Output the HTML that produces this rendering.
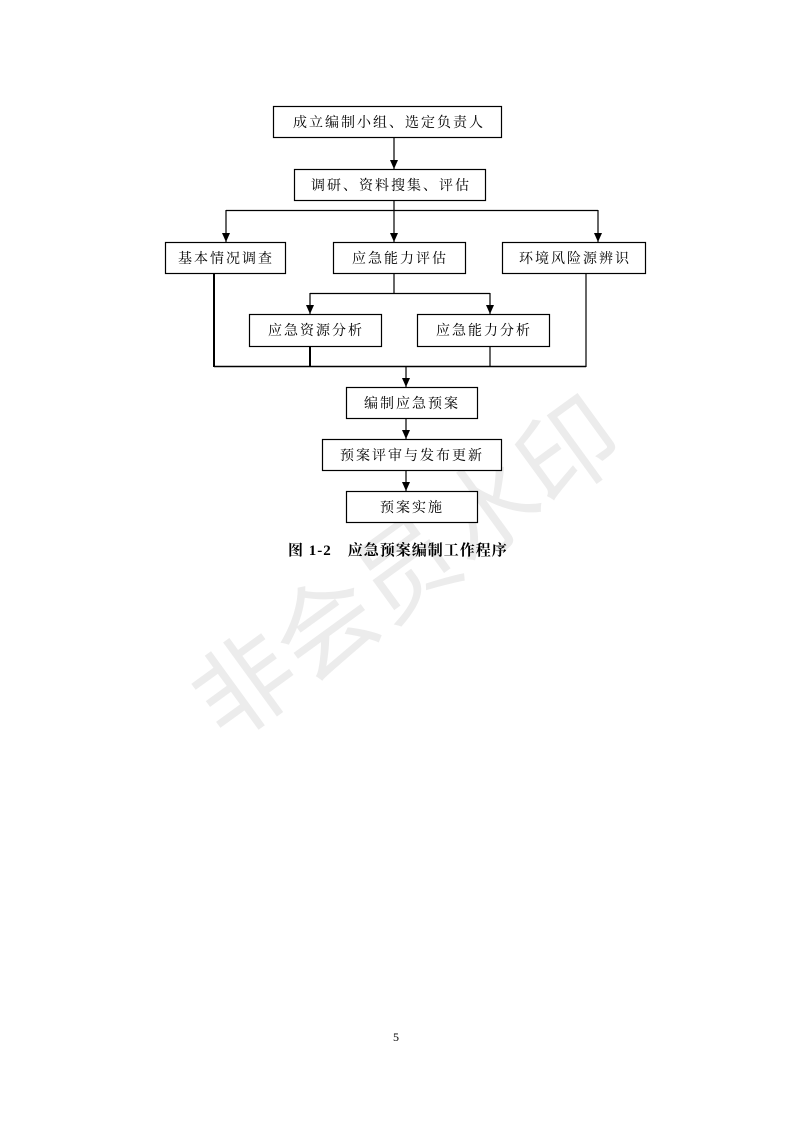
<!DOCTYPE html>
<html><head><meta charset="utf-8"><style>
body{margin:0;background:#fff;}
svg{display:block;}
</style></head><body>
<svg width="794" height="1123" viewBox="0 0 794 1123" xmlns="http://www.w3.org/2000/svg">
<rect width="794" height="1123" fill="#fff"/>
<text x="402" y="562" transform="rotate(-36 402 562)" text-anchor="middle" dominant-baseline="central" font-family="'Noto Sans CJK SC',sans-serif" font-size="100" font-weight="400" fill="#ececec">非会员水印</text>
<defs><marker id="a" markerWidth="10" markerHeight="10" refX="9" refY="5" orient="auto" markerUnits="userSpaceOnUse"><path d="M0,1 L9,5 L0,9 z" fill="#000"/></marker></defs>
<g fill="#fff" stroke="#000" stroke-width="1.2">
<rect x="273.5" y="106.5" width="228" height="31"/>
<rect x="294.5" y="169.5" width="191" height="31"/>
<rect x="165.5" y="242.5" width="120" height="31"/>
<rect x="333.5" y="242.5" width="132" height="31"/>
<rect x="502.5" y="242.5" width="143" height="31"/>
<rect x="249.5" y="314.5" width="132" height="32"/>
<rect x="417.5" y="314.5" width="132" height="32"/>
<rect x="346.5" y="387.5" width="131" height="31"/>
<rect x="322.5" y="439.5" width="179" height="31"/>
<rect x="346.5" y="491.5" width="131" height="31"/>
</g>
<g stroke="#000" stroke-width="1.2" fill="none">
<line x1="394" y1="138" x2="394" y2="169" marker-end="url(#a)"/>
<line x1="226" y1="210.5" x2="598" y2="210.5"/>
<line x1="394" y1="201" x2="394" y2="242" marker-end="url(#a)"/>
<line x1="226" y1="210" x2="226" y2="242" marker-end="url(#a)"/>
<line x1="598" y1="210" x2="598" y2="242" marker-end="url(#a)"/>
<line x1="394" y1="274" x2="394" y2="293"/>
<line x1="310" y1="293.5" x2="490" y2="293.5"/>
<line x1="310" y1="293" x2="310" y2="314" marker-end="url(#a)"/>
<line x1="490" y1="293" x2="490" y2="314" marker-end="url(#a)"/>
<line x1="214" y1="366.5" x2="586" y2="366.5" stroke-width="1.5"/>
<line x1="214" y1="274" x2="214" y2="367" stroke-width="2"/>
<line x1="310" y1="347" x2="310" y2="367" stroke-width="2"/>
<line x1="490" y1="347" x2="490" y2="367"/>
<line x1="586" y1="274" x2="586" y2="367"/>
<line x1="406" y1="367" x2="406" y2="387" marker-end="url(#a)"/>
<line x1="406" y1="419" x2="406" y2="439" marker-end="url(#a)"/>
<line x1="406" y1="471" x2="406" y2="491" marker-end="url(#a)"/>
</g>
<g font-family="'Liberation Serif','Noto Serif CJK SC',serif" font-size="14" fill="#000" text-anchor="middle" letter-spacing="2">
<text x="389" y="127">成立编制小组、选定负责人</text>
<text x="391" y="190">调研、资料搜集、评估</text>
<text x="226" y="263">基本情况调查</text>
<text x="400" y="263">应急能力评估</text>
<text x="575" y="263">环境风险源辨识</text>
<text x="316" y="335">应急资源分析</text>
<text x="484" y="335">应急能力分析</text>
<text x="412" y="408">编制应急预案</text>
<text x="412" y="460">预案评审与发布更新</text>
<text x="412" y="512">预案实施</text>
</g>
<text x="288" y="555" font-family="'Liberation Serif','Noto Serif CJK SC',serif" font-size="15" font-weight="bold" fill="#000" letter-spacing="1">图 1-2　应急预案编制工作程序</text>
<text x="396" y="1041" text-anchor="middle" font-family="'Liberation Serif',serif" font-size="12" fill="#000">5</text>
</svg>
</body></html>
